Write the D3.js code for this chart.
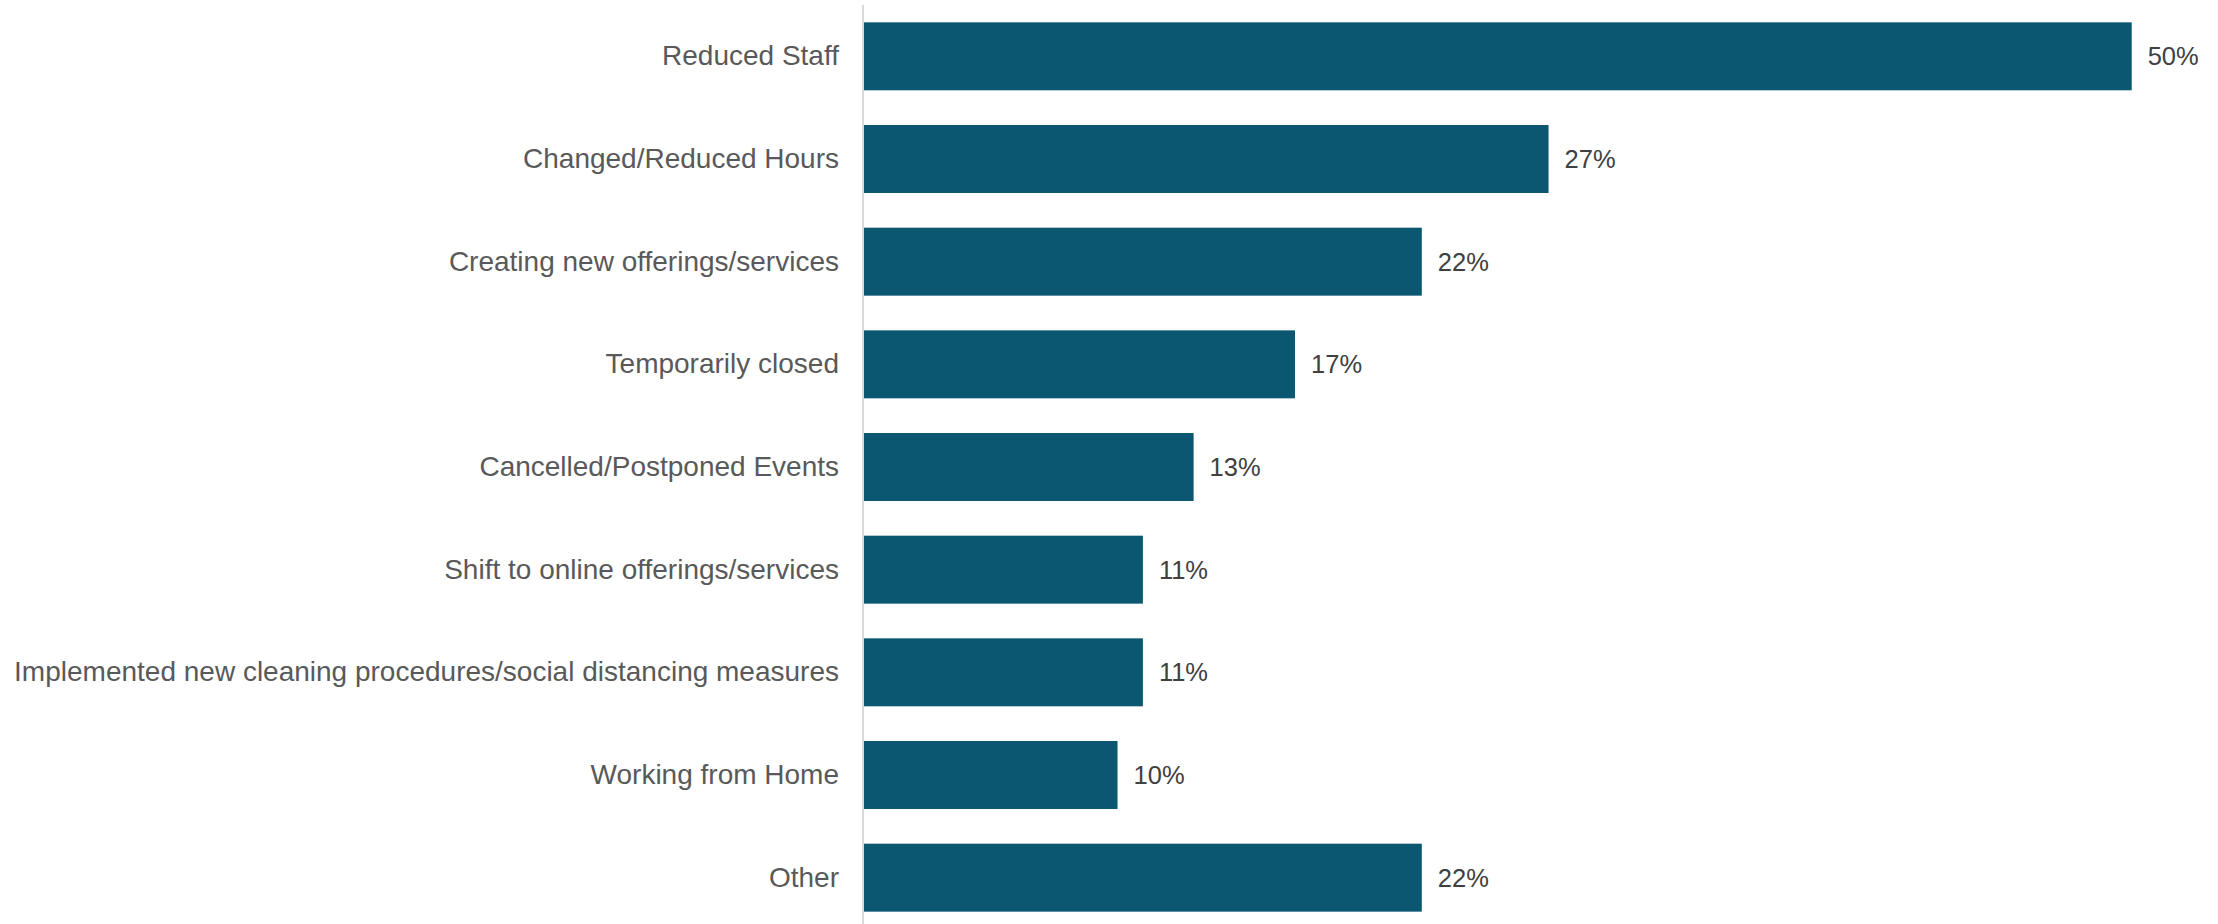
<!DOCTYPE html>
<html>
<head>
<meta charset="utf-8">
<script src="https://cdn.jsdelivr.net/npm/d3@7"></script>
<style>
  html, body { margin: 0; padding: 0; background: #ffffff; }
  svg { display: block; font-family: "Liberation Sans", Arial, sans-serif; }
</style>
</head>
<body>
<svg id="chart" width="2218" height="924"></svg>
<script>
// Business responses, share of respondents (%)
const categories = [
  "Reduced Staff",
  "Changed/Reduced Hours",
  "Creating new offerings/services",
  "Temporarily closed",
  "Cancelled/Postponed Events",
  "Shift to online offerings/services",
  "Implemented new cleaning procedures/social distancing measures",
  "Working from Home",
  "Other"
];
const values = [50, 27, 22, 17, 13, 11, 11, 10, 22];

const width = 2218, height = 924;
const svg = d3.select("#chart");

const x = d3.scaleLinear().domain([0, 50]).range([864, 2131.7]);
const y = d3.scaleBand()
  .domain(categories)
  .range([5, 929])
  .paddingInner(0.338)
  .paddingOuter(0.169);

// Bars
svg.append("g")
  .selectAll("rect")
  .data(categories)
  .join("rect")
  .attr("x", x(0))
  .attr("y", d => y(d))
  .attr("width", (d, i) => x(values[i]) - x(0))
  .attr("height", y.bandwidth())
  .attr("fill", "#0b5670");

// Category axis on the left
const yAxis = svg.append("g")
  .attr("transform", `translate(${x(0) - 1},0)`)
  .call(d3.axisLeft(y).tickSize(0).tickPadding(24));
yAxis.select(".domain").remove();
yAxis.selectAll("text")
  .attr("font-size", "28px")
  .attr("font-family", "Liberation Sans, Arial, sans-serif")
  .attr("fill", "#595959");

// Vertical baseline
svg.append("line")
  .attr("x1", x(0) - 1).attr("x2", x(0) - 1)
  .attr("y1", 5).attr("y2", height)
  .attr("stroke", "#d9d9d9")
  .attr("stroke-width", 2);

// Value labels
svg.append("g")
  .selectAll("text")
  .data(categories)
  .join("text")
  .attr("x", (d, i) => x(values[i]) + 16)
  .attr("y", d => y(d) + y.bandwidth() / 2)
  .attr("dy", "0.35em")
  .attr("font-size", "25.5px")
  .attr("fill", "#404040")
  .text((d, i) => values[i] + "%");
</script>
</body>
</html>
